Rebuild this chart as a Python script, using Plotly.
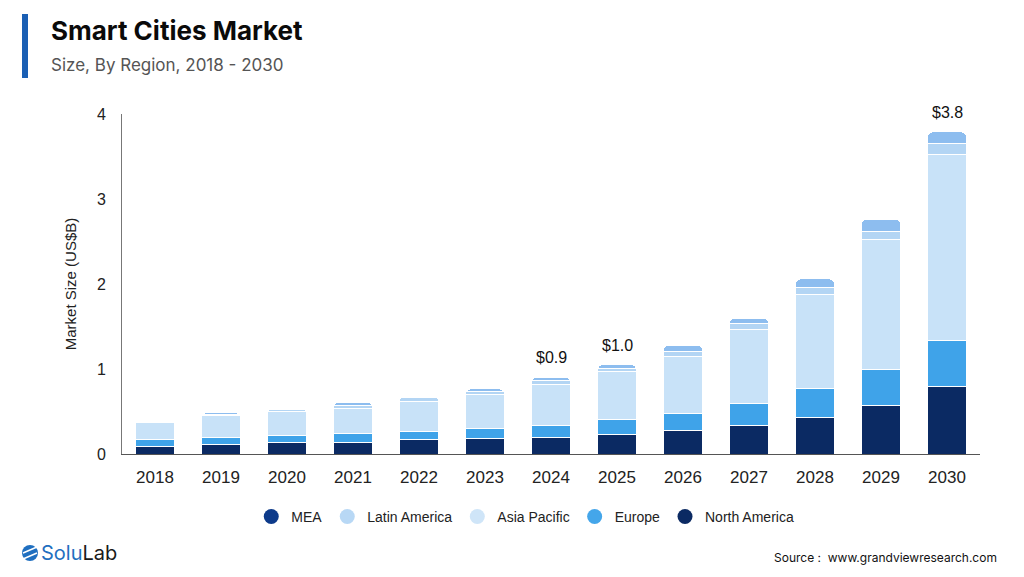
import plotly.graph_objects as go

years = ["2018", "2019", "2020", "2021", "2022", "2023", "2024", "2025", "2026", "2027", "2028", "2029", "2030"]
north_america = [0.09, 0.115, 0.13, 0.14, 0.165, 0.18, 0.20, 0.235, 0.28, 0.33, 0.435, 0.565, 0.79]
europe = [0.075, 0.085, 0.085, 0.105, 0.095, 0.12, 0.14, 0.175, 0.20, 0.26, 0.33, 0.425, 0.55]
asia_pacific = [0.20, 0.25, 0.285, 0.295, 0.36, 0.40, 0.48, 0.555, 0.67, 0.87, 1.115, 1.53, 2.18]
latin_america = [0.015, 0.017, 0.02, 0.035, 0.04, 0.03, 0.04, 0.045, 0.06, 0.07, 0.08, 0.10, 0.13]
mea = [0.02, 0.019, 0.02, 0.035, 0.02, 0.035, 0.045, 0.04, 0.07, 0.07, 0.10, 0.14, 0.14]
labelled = {"2024": "$0.9", "2025": "$1.0", "2030": "$3.8"}

series = [
    ("North America", north_america, "#0b2a63", "#0b2a63"),
    ("Europe", europe, "#3fa3e9", "#44a6ea"),
    ("Asia Pacific", asia_pacific, "#c8e2f8", "#cfe5f8"),
    ("Latin America", latin_america, "#b3d5f4", "#b8d8f5"),
    ("MEA", mea, "#8dbdef", "#0d3a8a"),
]

fig = go.Figure()
for name, vals, col, _ in series:
    fig.add_trace(go.Bar(x=years, y=vals, name=name, marker=dict(color=col, line=dict(color="white", width=1)),
                         showlegend=False, hoverinfo="x+y+name"))

for name, vals, _, lcol in reversed(series):
    fig.add_trace(go.Scatter(x=[None], y=[None], mode="markers", name=name,
                             marker=dict(color=lcol, size=15, symbol="circle")))

totals = [sum(v) for v in zip(north_america, europe, asia_pacific, latin_america, mea)]
for i, (yr, tot) in enumerate(zip(years, totals)):
    if yr in labelled:
        fig.add_annotation(x=i, y=tot, xref="x", yref="y", text=labelled[yr], showarrow=False,
                           yanchor="bottom", yshift=9,
                           font=dict(family="Liberation Sans, Arial", size=16, color="#111111"))

fig.update_layout(
    barmode="stack",
    bargap=0.41,
    barcornerradius=5,
    width=1024, height=577,
    margin=dict(l=122, r=44, t=114, b=123),
    paper_bgcolor="white", plot_bgcolor="white",
    font=dict(family="Liberation Sans, Arial", color="#222222"),
    legend=dict(orientation="h", x=0.47, xanchor="center", y=-0.185, yanchor="middle",
                font=dict(size=14, color="#222222"), itemsizing="trace", traceorder="normal",
                itemwidth=30),
    xaxis=dict(type="category", range=[-0.5, 12.5], showline=True, linecolor="#555555", linewidth=1,
               ticks="", ticklabelstandoff=8, tickfont=dict(size=17, color="#222222"), showgrid=False,
               fixedrange=True),
    yaxis=dict(range=[0, 4], tickvals=[0, 1, 2, 3, 4], showline=True, linecolor="#777777", linewidth=1,
               ticks="", ticklabelstandoff=12, tickfont=dict(size=16, color="#222222"), showgrid=False,
               zeroline=False,
               title=dict(text="Market Size (US$B)", font=dict(size=15, color="#222222"), standoff=16)),
)

# Header decoration and texts
fig.add_shape(type="rect", xref="paper", yref="paper", layer="above",
              x0=(22 - 122) / 858, x1=(28 - 122) / 858, y0=(454 - 78) / 340, y1=(454 - 14) / 340,
              fillcolor="#1a5fb4", line=dict(width=0))
fig.add_annotation(xref="paper", yref="paper", x=(49 - 122) / 858, y=(454 - 30) / 340, xanchor="left",
                   yanchor="middle", showarrow=False, text="<b>Smart Cities Market</b>",
                   font=dict(family="Inter, Liberation Sans", size=26, color="#0a0a0a"))
fig.add_annotation(xref="paper", yref="paper", x=(49 - 122) / 858, y=(454 - 65) / 340, xanchor="left",
                   yanchor="middle", showarrow=False, text="Size, By Region, 2018 - 2030",
                   font=dict(family="Inter, Liberation Sans", size=17, color="#555555"))

# Logo
fig.add_shape(type="circle", xref="paper", yref="paper", layer="above",
              x0=(22 - 122) / 858, x1=(38 - 122) / 858, y0=(454 - 561) / 340, y1=(454 - 545) / 340,
              fillcolor="#1f6fc0", line=dict(width=0))
for dy in (-3, 3):
    fig.add_shape(type="line", xref="paper", yref="paper", layer="above",
                  x0=(23 - 122) / 858, x1=(37 - 122) / 858,
                  y0=(454 - (556 + dy)) / 340, y1=(454 - (550 + dy)) / 340,
                  line=dict(color="white", width=1.5))
fig.add_annotation(xref="paper", yref="paper", x=(39 - 122) / 858, y=(454 - 553) / 340, xanchor="left",
                   yanchor="middle", showarrow=False,
                   text="<span style='color:#1f6fc0'>Solu</span><span style='color:#1a1a1a'>Lab</span>",
                   font=dict(family="Inter, Liberation Sans", size=20))
fig.add_annotation(xref="paper", yref="paper", x=(999 - 122) / 858, y=(454 - 557) / 340, xanchor="right",
                   yanchor="middle", showarrow=False, text="Source :  www.grandviewresearch.com",
                   font=dict(family="Inter, Liberation Sans", size=12, color="#111111"))

fig.write_html("out.html")
